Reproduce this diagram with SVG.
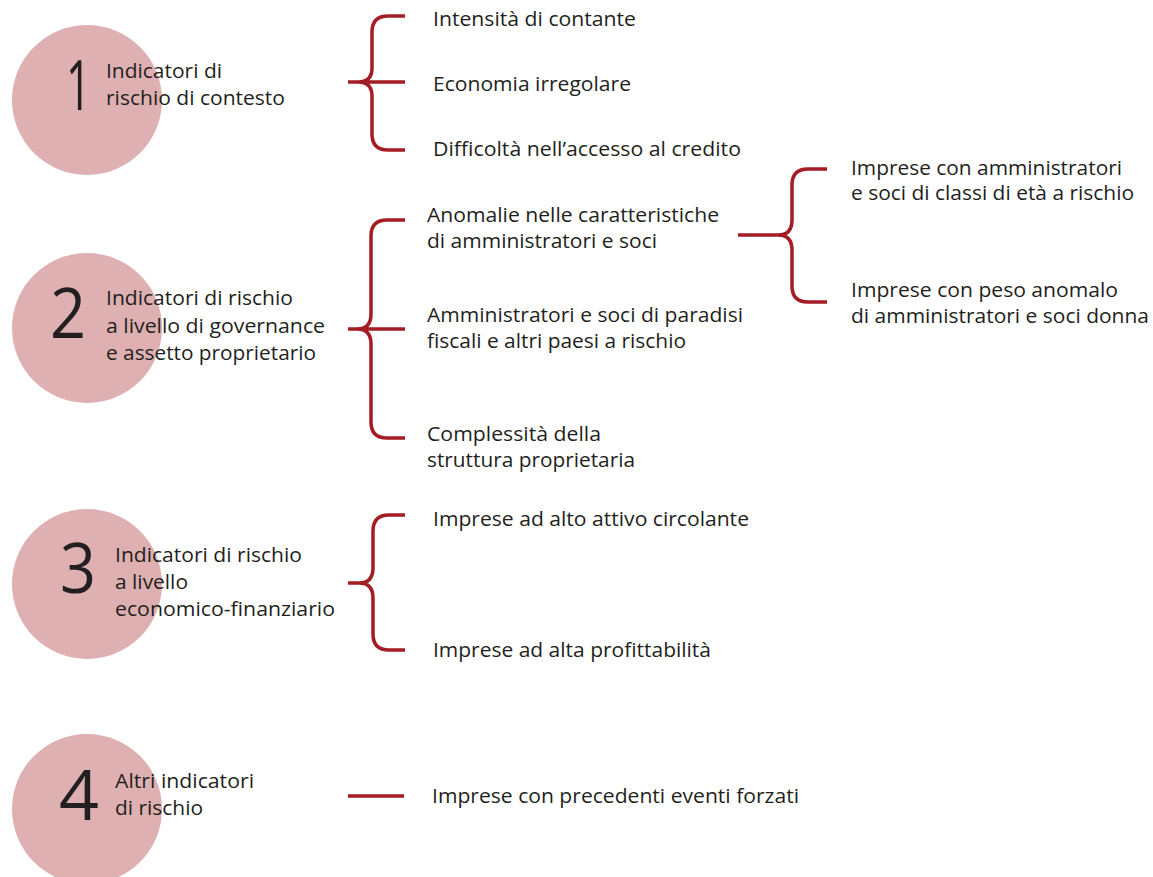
<svg xmlns="http://www.w3.org/2000/svg" width="1153" height="877" viewBox="0 0 1153 877">
<style>
.c{fill:#deb0b1}
.t{font-family:"Open Sans","Noto Sans",sans-serif;font-size:19.5px;fill:#231f20}
.n{font-family:"Open Sans","Noto Sans",sans-serif;font-size:70px;fill:#231f20}
.b{fill:none;stroke:#a51d24;stroke-width:3.5}
</style>
<rect width="1153" height="877" fill="#fff"/>
<g id="node1">
<circle class="c" cx="87" cy="100" r="75"/>
<text class="n" x="66" y="110" textLength="25" lengthAdjust="spacingAndGlyphs">1</text>
<text class="t" x="106" y="78" textLength="116" lengthAdjust="spacingAndGlyphs">Indicatori di</text>
<text class="t" x="106" y="105" textLength="179" lengthAdjust="spacingAndGlyphs">rischio di contesto</text>
</g>
<g id="node2">
<circle class="c" cx="87" cy="328" r="75"/>
<text class="n" x="50" y="338" textLength="36" lengthAdjust="spacingAndGlyphs">2</text>
<text class="t" x="106" y="305" textLength="187" lengthAdjust="spacingAndGlyphs">Indicatori di rischio</text>
<text class="t" x="106" y="333" textLength="219" lengthAdjust="spacingAndGlyphs">a livello di governance</text>
<text class="t" x="106" y="360" textLength="210" lengthAdjust="spacingAndGlyphs">e assetto proprietario</text>
</g>
<g id="node3">
<circle class="c" cx="87" cy="584" r="75"/>
<text class="n" x="60" y="593" textLength="36" lengthAdjust="spacingAndGlyphs">3</text>
<text class="t" x="115" y="562" textLength="187" lengthAdjust="spacingAndGlyphs">Indicatori di rischio</text>
<text class="t" x="115" y="589" textLength="73" lengthAdjust="spacingAndGlyphs">a livello</text>
<text class="t" x="115" y="616" textLength="220" lengthAdjust="spacingAndGlyphs">economico-finanziario</text>
</g>
<g id="node4">
<circle class="c" cx="87" cy="809" r="75"/>
<text class="n" x="59" y="820" textLength="40" lengthAdjust="spacingAndGlyphs">4</text>
<text class="t" x="115" y="788" textLength="139" lengthAdjust="spacingAndGlyphs">Altri indicatori</text>
<text class="t" x="115" y="815" textLength="88" lengthAdjust="spacingAndGlyphs">di rischio</text>
</g>
<g id="items1">
<text class="t" x="433" y="26" textLength="203" lengthAdjust="spacingAndGlyphs">Intensità di contante</text>
<text class="t" x="433" y="91" textLength="198" lengthAdjust="spacingAndGlyphs">Economia irregolare</text>
<text class="t" x="433" y="156" textLength="308" lengthAdjust="spacingAndGlyphs">Difficoltà nell’accesso al credito</text>
</g>
<g id="items2">
<text class="t" x="427" y="222" textLength="292" lengthAdjust="spacingAndGlyphs">Anomalie nelle caratteristiche</text>
<text class="t" x="427" y="248" textLength="230" lengthAdjust="spacingAndGlyphs">di amministratori e soci</text>
<text class="t" x="427" y="322" textLength="316" lengthAdjust="spacingAndGlyphs">Amministratori e soci di paradisi</text>
<text class="t" x="427" y="348" textLength="259" lengthAdjust="spacingAndGlyphs">fiscali e altri paesi a rischio</text>
<text class="t" x="427" y="441" textLength="174" lengthAdjust="spacingAndGlyphs">Complessità della</text>
<text class="t" x="427" y="467" textLength="208" lengthAdjust="spacingAndGlyphs">struttura proprietaria</text>
</g>
<g id="items2a">
<text class="t" x="851" y="175" textLength="271" lengthAdjust="spacingAndGlyphs">Imprese con amministratori</text>
<text class="t" x="851" y="200" textLength="283" lengthAdjust="spacingAndGlyphs">e soci di classi di età a rischio</text>
<text class="t" x="851" y="297" textLength="267" lengthAdjust="spacingAndGlyphs">Imprese con peso anomalo</text>
<text class="t" x="851" y="323" textLength="298" lengthAdjust="spacingAndGlyphs">di amministratori e soci donna</text>
</g>
<g id="items3">
<text class="t" x="433" y="526" textLength="316" lengthAdjust="spacingAndGlyphs">Imprese ad alto attivo circolante</text>
<text class="t" x="433" y="657" textLength="278" lengthAdjust="spacingAndGlyphs">Imprese ad alta profittabilità</text>
</g>
<g id="items4">
<text class="t" x="432" y="803" textLength="367" lengthAdjust="spacingAndGlyphs">Imprese con precedenti eventi forzati</text>
</g>
<g id="connectors">
<path class="b" d="M405,16 H388 Q372,16 372,32 V68 Q372,82 358,82 Q372,82 372,96 V134 Q372,150 388,150 H405 M348,82 H405"/>
<path class="b" d="M405,220 H387 Q371,220 371,236 V314 Q371,329 357,329 Q371,329 371,344 V422 Q371,438 387,438 H405 M348,329 H405"/>
<path class="b" d="M827,169 H808 Q792,169 792,185 V220 Q792,235 778,235 Q792,235 792,250 V286 Q792,302 808,302 H827 M738,235 H780"/>
<path class="b" d="M405,515 H389 Q373,515 373,531 V568 Q373,583 359,583 Q373,583 373,598 V634 Q373,650 389,650 H405 M348,583 H362"/>
<path class="b" d="M348,796 H404"/>
</g>
</svg>
